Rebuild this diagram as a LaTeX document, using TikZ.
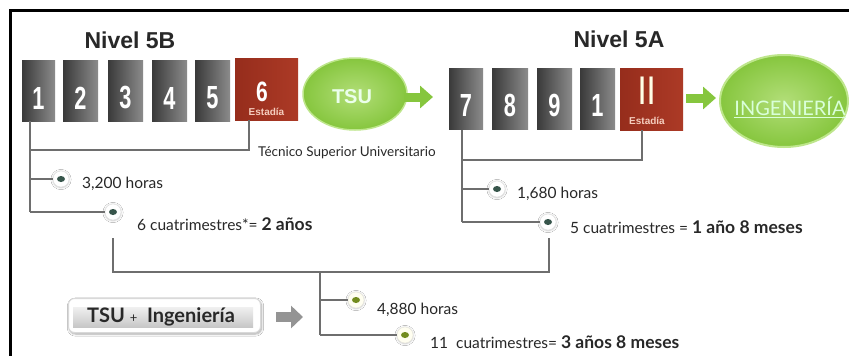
\documentclass[tikz,border=0pt]{standalone}
\usepackage{fontspec}
\usepackage{graphicx}
\setmainfont{Liberation Sans}
\newfontfamily\lato{Lato}
\usetikzlibrary{shapes.geometric,arrows.meta,shadows.blur}
\definecolor{boxL}{RGB}{58,58,58}
\definecolor{boxR}{RGB}{140,140,140}
\definecolor{redbox}{RGB}{172,58,38}
\definecolor{redL}{RGB}{150,45,28}
\definecolor{estcol}{RGB}{245,205,190}
\definecolor{grn}{RGB}{134,198,62}
\definecolor{grnL}{RGB}{178,222,120}
\definecolor{grnrim}{RGB}{190,230,140}
\definecolor{linegray}{RGB}{110,110,110}
\definecolor{dotdark}{RGB}{55,85,75}
\definecolor{dotolive}{RGB}{115,140,30}
\definecolor{txt}{RGB}{40,40,40}
\newcommand{\dig}[1]{{\fontsize{32}{32}\selectfont\bfseries\scalebox{0.68}[1]{#1}}}
\begin{document}
\begin{tikzpicture}[x=1pt,y=-1pt,
  gbox/.style={anchor=north west, inner sep=0pt, minimum width=#1, minimum height=61pt,
    left color=boxL, right color=boxR, text=white},
  rbox/.style={anchor=north west, inner sep=0pt, minimum width=#1, minimum height=62pt,
    left color=redL, right color=redbox, text=white},
  conn/.style={draw=linegray, line width=1.1pt},
  halo/.style={circle, minimum size=16pt, inner sep=0pt, fill=white, draw=black!12,
    blur shadow={shadow blur steps=4, shadow xshift=0pt, shadow yshift=-0.5pt, shadow opacity=25}},
  dotin/.style={ellipse, minimum width=8pt, minimum height=6pt, inner sep=0pt, fill=#1},
  lbl/.style={anchor=west, inner sep=0pt, text=txt, font=\lato\fontsize{15.5}{15.5}\selectfont},
  garrow/.style={line width=9pt, draw=grn, -{Triangle[length=13pt,width=22pt]}},
  level/.style={font=\fontsize{23}{23}\selectfont\bfseries, text=txt, inner sep=0pt}
]
\useasboundingbox (0,0) rectangle (849,356);
\fill[white] (0,0) rectangle (849,356);
% frame (top and left only)
\draw[line width=3pt] (9,10.5) -- (849,10.5);
\draw[line width=3pt] (10.5,9) -- (10.5,356);

% titles
\node[level] (n5b) at (130,40) {Nivel 5B};
\node[level] (n5a) at (619,39) {Nivel 5A};

% first group
\node[gbox=33pt] (b1) at (22,60) {};
\node[gbox=35pt] (b2) at (63,60) {};
\node[gbox=35pt] (b3) at (108,60) {};
\node[gbox=35pt] (b4) at (152,60) {};
\node[gbox=35pt] (b5) at (195,60) {};
\node[rbox=63pt] (b6) at (235,58) {};
\node[text=white, inner sep=0pt] (d1) at (38.5,98) {\dig{1}};
\node[text=white, inner sep=0pt] (d2) at (80.5,98) {\dig{2}};
\node[text=white, inner sep=0pt] (d3) at (125.5,98) {\dig{3}};
\node[text=white, inner sep=0pt] (d4) at (169.5,98) {\dig{4}};
\node[text=white, inner sep=0pt] (d5) at (212.5,98) {\dig{5}};
\node[text=white, inner sep=0pt] (d6) at (262,92) {{\fontsize{28}{28}\selectfont\bfseries\scalebox{0.75}[1]{6}}};
\node[text=estcol, inner sep=0pt, font=\bfseries\fontsize{10}{10}\selectfont] (e6) at (266.5,112) {Estadía};

% TSU ellipse
\node[ellipse, minimum width=104pt, minimum height=72pt, inner sep=0pt,
  draw=grnrim, line width=1.5pt, inner color=grnL, outer color=grn] (tsu) at (355,94) {};
\node[text=white!92!green, font=\bfseries\fontsize{20}{20}\selectfont] (tsut) at (352,97) {TSU};

% second group
\node[gbox=34pt] (b7) at (449,68) {};
\node[gbox=36pt] (b8) at (492,68) {};
\node[gbox=35pt] (b9) at (537,68) {};
\node[gbox=35pt] (b10) at (580,68) {};
\node[rbox=63pt] (b11) at (620,68) {};
\node[text=white, inner sep=0pt] (d7) at (466,105) {\dig{7}};
\node[text=white, inner sep=0pt] (d8) at (510,105) {\dig{8}};
\node[text=white, inner sep=0pt] (d9) at (554.5,105) {\dig{9}};
\node[text=white, inner sep=0pt] (d10) at (597.5,105) {\dig{1}};
\node[text=white!90!yellow, inner sep=0pt] (d11) at (647,91) {{\fontsize{40}{40}\selectfont\bfseries\scalebox{0.55}[1]{I\hspace{4pt}I}}};
\node[text=estcol, inner sep=0pt, font=\bfseries\fontsize{10}{10}\selectfont] (e11) at (647,121) {Estadía};

% Ingenieria ellipse
\node[ellipse, minimum width=128pt, minimum height=92pt, inner sep=0pt,
  draw=grnrim, line width=2pt, inner color=grnL, outer color=grn] (ing) at (784,101) {};
\node[text=white!85!green, font=\lato\fontsize{20}{20}\selectfont, inner sep=0pt] (ingt) at (790,107) {\underline{INGENIERÍA}};

% green arrows
\draw[garrow, shorten <=-4pt, shorten >=16pt] (tsu.east |- 0,97) -- (b7.west |- 0,97);
\draw[garrow, shorten <=3pt, shorten >=3pt] (b11.east |- 0,98) -- (ing.west |- 0,98);

% Tecnico label
\node[lbl, font=\lato\fontsize{13.5}{13.5}\selectfont] (tec) at (258,153) {Técnico Superior Universitario};

% coordinates
\coordinate (L0) at (30,121);
\coordinate (Lb) at (30,150);
\coordinate (Rb) at (249,150);
\coordinate (R0) at (249,120);
\coordinate (L1) at (30,179);
\coordinate (L2) at (30,212);
\coordinate (P0) at (462,130);
\coordinate (Pb) at (462,160);
\coordinate (Qb) at (642,160);
\coordinate (Q0) at (642,130);
\coordinate (P1) at (462,189);
\coordinate (P2) at (462,222);
\coordinate (U1) at (113,238);
\coordinate (U2) at (113,272);
\coordinate (V1) at (549,238);
\coordinate (V2) at (549,272);
\coordinate (M0) at (320,272);
\coordinate (M1) at (320,300);
\coordinate (M2) at (320,335);

% dots
\node[halo] (h1) at (61,179) {};
\node[dotin=dotdark] at (h1) {};
\node[halo] (h2) at (113,212) {};
\node[dotin=dotdark] at (h2) {};
\node[halo] (h3) at (497,189) {};
\node[dotin=dotdark] at (h3) {};
\node[halo] (h4) at (548,222) {};
\node[dotin=dotdark] at (h4) {};
\node[halo, fill=yellow!6, draw=yellow!30!black!15] (h5) at (356,300) {};
\node[dotin=dotolive] at (h5) {};
\node[halo, fill=yellow!6, draw=yellow!30!black!15] (h6) at (405,335) {};
\node[dotin=dotolive] at (h6) {};

% connectors
\draw[conn] (L0) -- (L2);
\draw[conn] (Lb) -- (Rb) -- (R0);
\draw[conn] (L1) -- (h1.west);
\draw[conn] (L2) -- (h2.west);
\draw[conn] (P0) -- (P2);
\draw[conn] (Pb) -- (Qb) -- (Q0);
\draw[conn] (P1) -- (h3.west);
\draw[conn] (P2) -- (h4.west);
\draw[conn] (U1) -- (U2) -- (V2) -- (V1);
\draw[conn] (M0) -- (M2);
\draw[conn] (M1) -- (h5.west);
\draw[conn] (M2) -- (h6.west);

% labels
\node[lbl] (t1) at (82,184) {3,200 horas};
\node[lbl] (t2) at (137,224) {6 cuatrimestres*= \textbf{\fontsize{17.5}{17.5}\selectfont 2 años}};
\node[lbl] (t3) at (517,194) {1,680 horas};
\node[lbl] (t4) at (570,227) {5 cuatrimestres = \textbf{\fontsize{17.5}{17.5}\selectfont 1 año 8 meses}};
\node[lbl] (t5) at (377,310) {4,880 horas};
\node[lbl] (t6) at (430,342) {11\ \ cuatrimestres= \textbf{\fontsize{17.5}{17.5}\selectfont 3 años 8 meses}};

% TSU + Ingenieria box
\node[rounded corners=6pt, minimum width=192pt, minimum height=34pt, anchor=north west,
  fill=white, draw=black!15, line width=1pt,
  blur shadow={shadow blur steps=6, shadow xshift=1pt, shadow yshift=-1.5pt, shadow opacity=35}] (tib) at (68,298) {};
\node[minimum width=180pt, minimum height=20pt, anchor=north west, inner sep=0pt,
  top color=black!6, bottom color=black!22] (tii) at (73,307) {};
\node[text=txt, font=\lato\bfseries\fontsize{20}{20}\selectfont, inner sep=0pt] (tit) at (161,317)
  {TSU {\mdseries\fontsize{13}{13}\selectfont +}\ \ Ingeniería};

% gray arrow
\draw[line width=10pt, draw=black!42, -{Triangle[length=12pt,width=22pt]}] (276,317) -- (303,317);
\end{tikzpicture}
\end{document}
